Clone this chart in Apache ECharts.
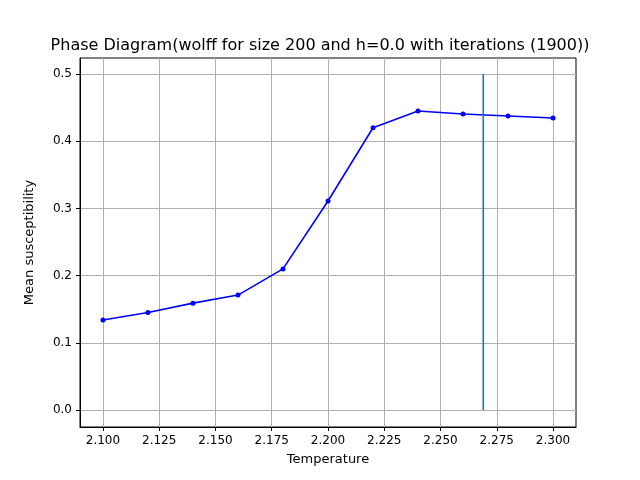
<!DOCTYPE html>
<html>
<head>
<meta charset="utf-8">
<script src="https://cdn.jsdelivr.net/npm/echarts@6/dist/echarts.min.js"></script>
<style>html,body{margin:0;padding:0;background:#fff}#chart{width:640px;height:480px}</style>
</head>
<body>
<div id="chart"></div>
<script>
// data
const temperatures = [2.10, 2.12, 2.14, 2.16, 2.18, 2.20, 2.22, 2.24, 2.26, 2.28, 2.30];
const susceptibility = [0.134, 0.145, 0.159, 0.171, 0.210, 0.311, 0.420, 0.445, 0.4405, 0.4375, 0.4345];
const criticalT = 2.269;
const criticalLine = [0, 0.5];
const xTicks = [2.1, 2.125, 2.15, 2.175, 2.2, 2.225, 2.25, 2.275, 2.3];
const yTicks = [0, 0.1, 0.2, 0.3, 0.4, 0.5];

const font = 'DejaVu Sans';
const chart = echarts.init(document.getElementById('chart'));
chart.setOption({
  animation: false,
  title: {
    text: 'Phase Diagram(wolff for size 200 and h=0.0 with iterations (1900))',
    left: 'center', top: 33,
    textStyle: { fontFamily: font, fontSize: 16, fontWeight: 'normal', color: '#000' }
  },
  grid: { left: 80, right: 64, top: 58, bottom: 53, show: true, borderColor: '#000', borderWidth: 1 },
  xAxis: {
    type: 'value', min: 2.0898, max: 2.3102,
    name: 'Temperature', nameLocation: 'middle', nameGap: 26,
    nameTextStyle: { fontFamily: font, fontSize: 13, color: '#000' },
    axisLine: { onZero: false, lineStyle: { color: '#000' } },
    axisTick: { customValues: xTicks, length: 4, lineStyle: { color: '#000' } },
    axisLabel: { customValues: xTicks, fontFamily: font, fontSize: 12, color: '#000',
      formatter: v => v.toFixed(3) },
    splitLine: { show: true, lineStyle: { color: '#b0b0b0' } }
  },
  yAxis: {
    type: 'value', min: -0.0253, max: 0.5238,
    name: 'Mean susceptibility', nameLocation: 'middle', nameGap: 44,
    nameTextStyle: { fontFamily: font, fontSize: 13, color: '#000' },
    axisLine: { show: true, onZero: false, lineStyle: { color: '#000' } },
    axisTick: { show: true, customValues: yTicks, length: 4, lineStyle: { color: '#000' } },
    axisLabel: { customValues: yTicks, fontFamily: font, fontSize: 12, color: '#000',
      formatter: v => v.toFixed(1) },
    splitLine: { show: true, lineStyle: { color: '#b0b0b0' } }
  },
  series: [
    {
      type: 'line',
      data: temperatures.map((t, i) => [t, susceptibility[i]]),
      color: '#0000ff',
      lineStyle: { width: 1.6, color: '#0000ff' },
      symbol: 'circle', symbolSize: 5,
      itemStyle: { color: '#0000ff' }
    },
    {
      type: 'line',
      data: criticalLine.map(v => [criticalT, v]),
      lineStyle: { width: 1.6, color: '#1f77b4' },
      symbol: 'none'
    }
  ]
});
</script>
</body>
</html>
